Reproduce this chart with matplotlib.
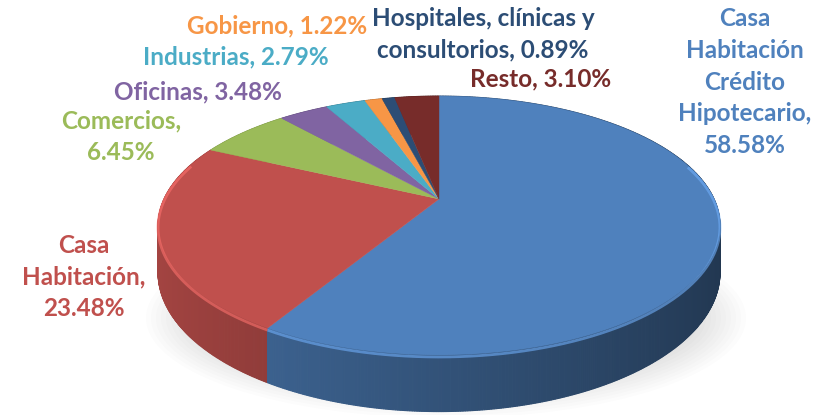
import textwrap
import numpy as np
import matplotlib.pyplot as plt
from matplotlib.patches import Polygon, Ellipse
import matplotlib.colors as mcolors

categories = ["Casa Habitación Crédito Hipotecario", "Casa Habitación", "Comercios",
              "Oficinas", "Industrias", "Gobierno",
              "Hospitales, clínicas y consultorios", "Resto"]
shares = [58.58, 23.48, 6.45, 3.48, 2.79, 1.22, 0.89, 3.10]
colors = ["#4F81BD", "#C0504D", "#9BBB59", "#8064A2", "#4BACC6", "#F79646", "#2C4D75", "#772C2A"]

# label layout (pixel centers, wrap width)
label_pos = [(745, 82), (84, 277), (121, 137), (198, 92), (236, 57), (277, 26), (483, 34), (541, 79)]
label_wrap = [11, 11, 11, 40, 40, 40, 22, 40]

# pie geometry in pixels (perspective-ish ellipse)
CX, CY = 439, 199
R, RY, K = 275, 124, 0.205
DEPTH = 45

def proj(theta, depth=0.0):
    u = np.sin(theta)
    v = -np.cos(theta)
    w = 1 - K * v
    return CX + R * u / w, CY + RY * v / w + depth / w

fig = plt.figure(figsize=(8.23, 4.15), dpi=100)
ax = fig.add_axes([0, 0, 1, 1])
ax.set_xlim(0, 823)
ax.set_ylim(415, 0)
ax.axis("off")

# soft shadow
for i in range(12):
    ax.add_patch(Ellipse((446, 318), 600 - i * 10, 200 - i * 6,
                         color="#808080", alpha=0.025, lw=0, zorder=0))

fr = np.array(shares) / np.sum(shares)
bounds = np.concatenate([[0], np.cumsum(fr)]) * 2 * np.pi

# side strips, back to front
strips = []
for i, c in enumerate(colors):
    t = np.linspace(bounds[i], bounds[i + 1], max(3, int(fr[i] * 900)))
    base = np.array(mcolors.to_rgb(c))
    for a, b in zip(t[:-1], t[1:]):
        m = (a + b) / 2
        shade = 0.64 - 0.22 * np.sin(m)
        xs1, ys1 = proj(np.array([a, b]))
        xs2, ys2 = proj(np.array([b, a]), DEPTH)
        pts = np.column_stack([np.r_[xs1, xs2], np.r_[ys1, ys2]])
        strips.append((-np.cos(m), pts, np.clip(base * shade, 0, 1)))
strips.sort(key=lambda s: s[0])
for _, pts, col in strips:
    ax.add_patch(Polygon(pts, closed=True, fc=col, ec=col, lw=0.8, zorder=1))

# top face
for i, c in enumerate(colors):
    t = np.linspace(bounds[i], bounds[i + 1], max(3, int(fr[i] * 400)))
    xs, ys = proj(t)
    pts = np.column_stack([np.r_[CX, xs], np.r_[CY, ys]])
    ax.add_patch(Polygon(pts, closed=True, fc=c, ec=c, lw=0.3, zorder=2))
    # bevel highlight on front rim
    front = np.cos(t) < 0.3
    if front.any():
        hl = np.clip(np.array(mcolors.to_rgb(c)) * 1.25 + 0.05, 0, 1)
        ax.plot(xs[front], ys[front] + 2, color=hl, lw=2.0, alpha=0.6, zorder=3,
                solid_capstyle="butt")

# labels
for cat, val, c, (lx, ly), wrap in zip(categories, shares, colors, label_pos, label_wrap):
    txt = "\n".join(textwrap.wrap(f"{cat}, {val:.2f}%", wrap, break_long_words=False))
    ax.text(lx, ly, txt, color=c, fontsize=17.5, fontweight="bold", family="Lato",
            ha="center", va="center", linespacing=1.45, zorder=5)

fig.savefig("out.png", dpi=100)
